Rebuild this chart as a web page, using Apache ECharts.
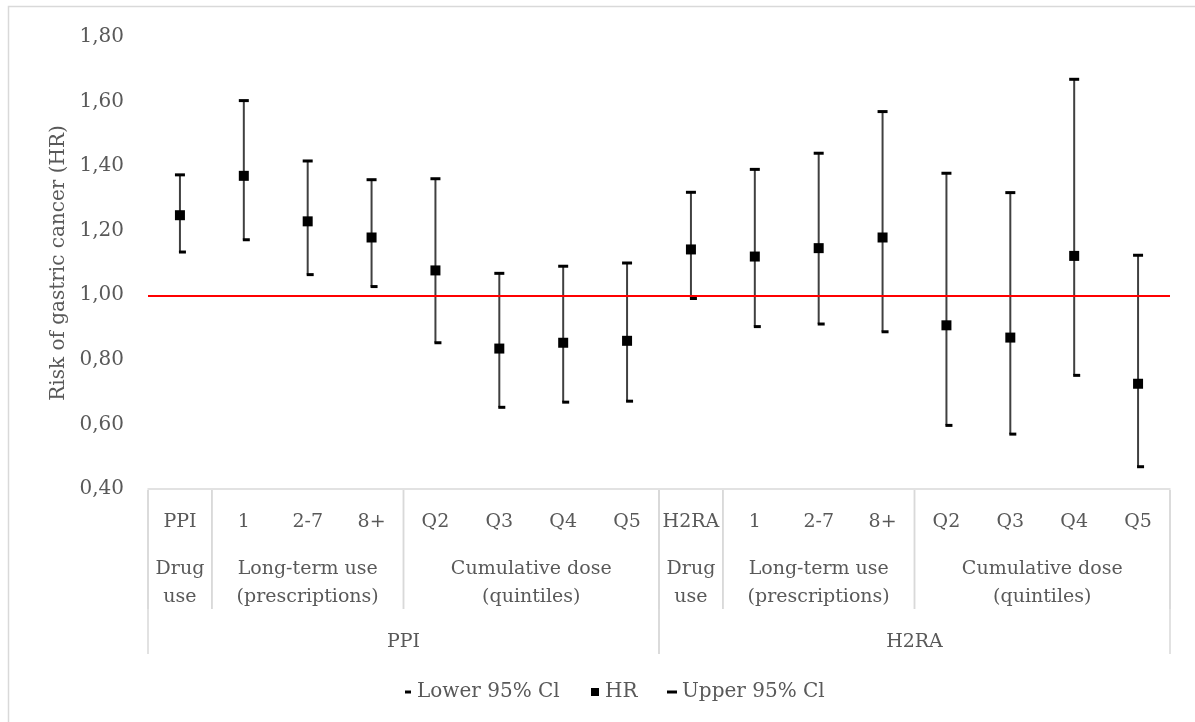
<!DOCTYPE html>
<html>
<head>
<meta charset="utf-8">
<script src="https://cdn.jsdelivr.net/npm/echarts@6/dist/echarts.min.js"></script>
<style>html,body{margin:0;padding:0;background:#fff;}#c{width:1195px;height:722px;}</style>
</head>
<body>
<div id="c"></div>
<script>
// ---- data ----
var categories = ['PPI','1','2-7','8+','Q2','Q3','Q4','Q5','H2RA','1','2-7','8+','Q2','Q3','Q4','Q5'];
var hrValues    = [1.248,1.370,1.229,1.179,1.077,0.835,0.853,0.859, 1.142,1.120,1.146,1.179,0.907,0.869,1.122,0.726];
var lowerValues = [1.134,1.172,1.064,1.027,0.853,0.653,0.669,0.672, 0.990,0.903,0.911,0.887,0.597,0.570,0.752,0.469];
var upperValues = [1.373,1.603,1.416,1.358,1.361,1.068,1.090,1.100, 1.319,1.390,1.440,1.569,1.378,1.318,1.669,1.124];
var subgroupLabels = ['Drug\nuse','Long-term use\n(prescriptions)','Cumulative dose\n(quintiles)','Drug\nuse','Long-term use\n(prescriptions)','Cumulative dose\n(quintiles)'];
var subgroupSpans = [1,3,4,1,3,4];
var drugLabels = ['PPI','H2RA'];
var drugSpans = [8,8];
var yTicks = {min:0.4, max:1.8, interval:0.2};
var referenceValue = 1.0;

// ---- build ----
var FONT = 'DejaVu Serif';
var TXT = '#595959';
function groups(spans, labels, level){
  var out = [], s = 0;
  for (var i=0;i<spans.length;i++){ out.push({value:[s, yTicks.min, s+spans[i]-1, level], name:labels[i]}); s += spans[i]; }
  return out;
}
var groupData = groups(subgroupSpans, subgroupLabels, 1).concat(groups(drugSpans, drugLabels, 2));

var chart = echarts.init(document.getElementById('c'), null, {renderer:'canvas'});
chart.setOption({
  animation:false,
  backgroundColor:'#fff',
  graphic:[{type:'rect', silent:true, shape:{x:8.5,y:6.5,width:1200,height:740}, style:{fill:'none', stroke:'#d9d9d9', lineWidth:1.5}}],
  grid:{left:148, right:25, top:37, bottom:233, containLabel:false},
  legend:[
    {data:[{name:'Lower 95% Cl', icon:'rect'}], left:400, top:677, itemWidth:6, itemHeight:3, itemGap:0, selectedMode:false, textStyle:{color:TXT, fontFamily:FONT, fontSize:20, padding:[0,0,0,1]}},
    {data:[{name:'HR', icon:'rect'}], left:586, top:677, itemWidth:8, itemHeight:8, selectedMode:false, textStyle:{color:TXT, fontFamily:FONT, fontSize:20, padding:[0,0,0,1]}},
    {data:[{name:'Upper 95% Cl', icon:'rect'}], left:662, top:677, itemWidth:10, itemHeight:3, selectedMode:false, textStyle:{color:TXT, fontFamily:FONT, fontSize:20, padding:[0,0,0,0]}}
  ],
  xAxis:{
    type:'category', data:categories, boundaryGap:true,
    axisLine:{show:true, lineStyle:{color:'#d9d9d9', width:1.5}},
    axisTick:{show:false},
    axisLabel:{color:TXT, fontFamily:FONT, fontSize:19, margin:24, interval:0},
    splitLine:{show:false}
  },
  yAxis:{
    type:'value', min:yTicks.min, max:yTicks.max, interval:yTicks.interval,
    name:'Risk of gastric cancer (HR)', nameLocation:'middle', nameGap:76,
    nameTextStyle:{color:TXT, fontFamily:FONT, fontSize:20},
    axisLine:{show:false}, axisTick:{show:false}, splitLine:{show:false},
    axisLabel:{color:TXT, fontFamily:FONT, fontSize:20, margin:24, formatter:function(v){return v.toFixed(2).replace('.',',');}}
  },
  series:[
    {
      type:'custom', name:'range', silent:true, z:1,
      data: categories.map(function(c,i){return [i, lowerValues[i], upperValues[i]];}),
      encode:{x:0, y:[1,2]},
      renderItem:function(params, api){
        var p1 = api.coord([api.value(0), api.value(1)]);
        var p2 = api.coord([api.value(0), api.value(2)]);
        return {type:'line', shape:{x1:p1[0], y1:p1[1], x2:p2[0], y2:p2[1]}, style:{stroke:'#404040', lineWidth:2}};
      },
      markLine:{silent:true, symbol:'none', label:{show:false}, lineStyle:{color:'#ff0000', width:2, type:'solid', opacity:1}, data:[{yAxis:referenceValue}]}
    },
    {
      type:'scatter', name:'Lower 95% Cl', z:3, symbol:'rect', symbolSize:[7,3], symbolOffset:[2.5,0],
      itemStyle:{color:'#000', opacity:1},
      data: lowerValues.map(function(v,i){return [i,v];})
    },
    {
      type:'scatter', name:'HR', z:4, symbol:'rect', symbolSize:10,
      itemStyle:{color:'#000', opacity:1},
      data: hrValues.map(function(v,i){return [i,v];})
    },
    {
      type:'scatter', name:'Upper 95% Cl', z:3, symbol:'rect', symbolSize:[10,3],
      itemStyle:{color:'#000', opacity:1},
      data: upperValues.map(function(v,i){return [i,v];})
    },
    {
      type:'custom', name:'groups', silent:true, clip:false, z:5,
      data: groupData,
      encode:{x:[0,2], y:1},
      renderItem:function(params, api){
        var from = api.value(0), to = api.value(2), level = api.value(3);
        var band = api.size([1,0])[0];
        var a = api.coord([from, yTicks.min]);
        var b = api.coord([to, yTicks.min]);
        var x0 = a[0] - band/2, x1 = b[0] + band/2, y0 = a[1] + 1;
        var len = level === 1 ? 119 : 164;
        var name = groupData[params.dataIndex].name;
        var ty = level === 1 ? y0 + 93 : y0 + 152;
        return {type:'group', children:[
          {type:'line', shape:{x1:x0, y1:y0, x2:x0, y2:y0+len}, style:{stroke:'#d9d9d9', lineWidth:1.5}},
          {type:'line', shape:{x1:x1, y1:y0, x2:x1, y2:y0+len}, style:{stroke:'#d9d9d9', lineWidth:1.5}},
          {type:'text', style:{text:name, x:(x0+x1)/2, y:ty, align:'center', verticalAlign:'middle', fill:TXT, fontFamily:FONT, fontSize:19, lineHeight:28}}
        ]};
      }
    }
  ]
});
</script>
</body>
</html>
